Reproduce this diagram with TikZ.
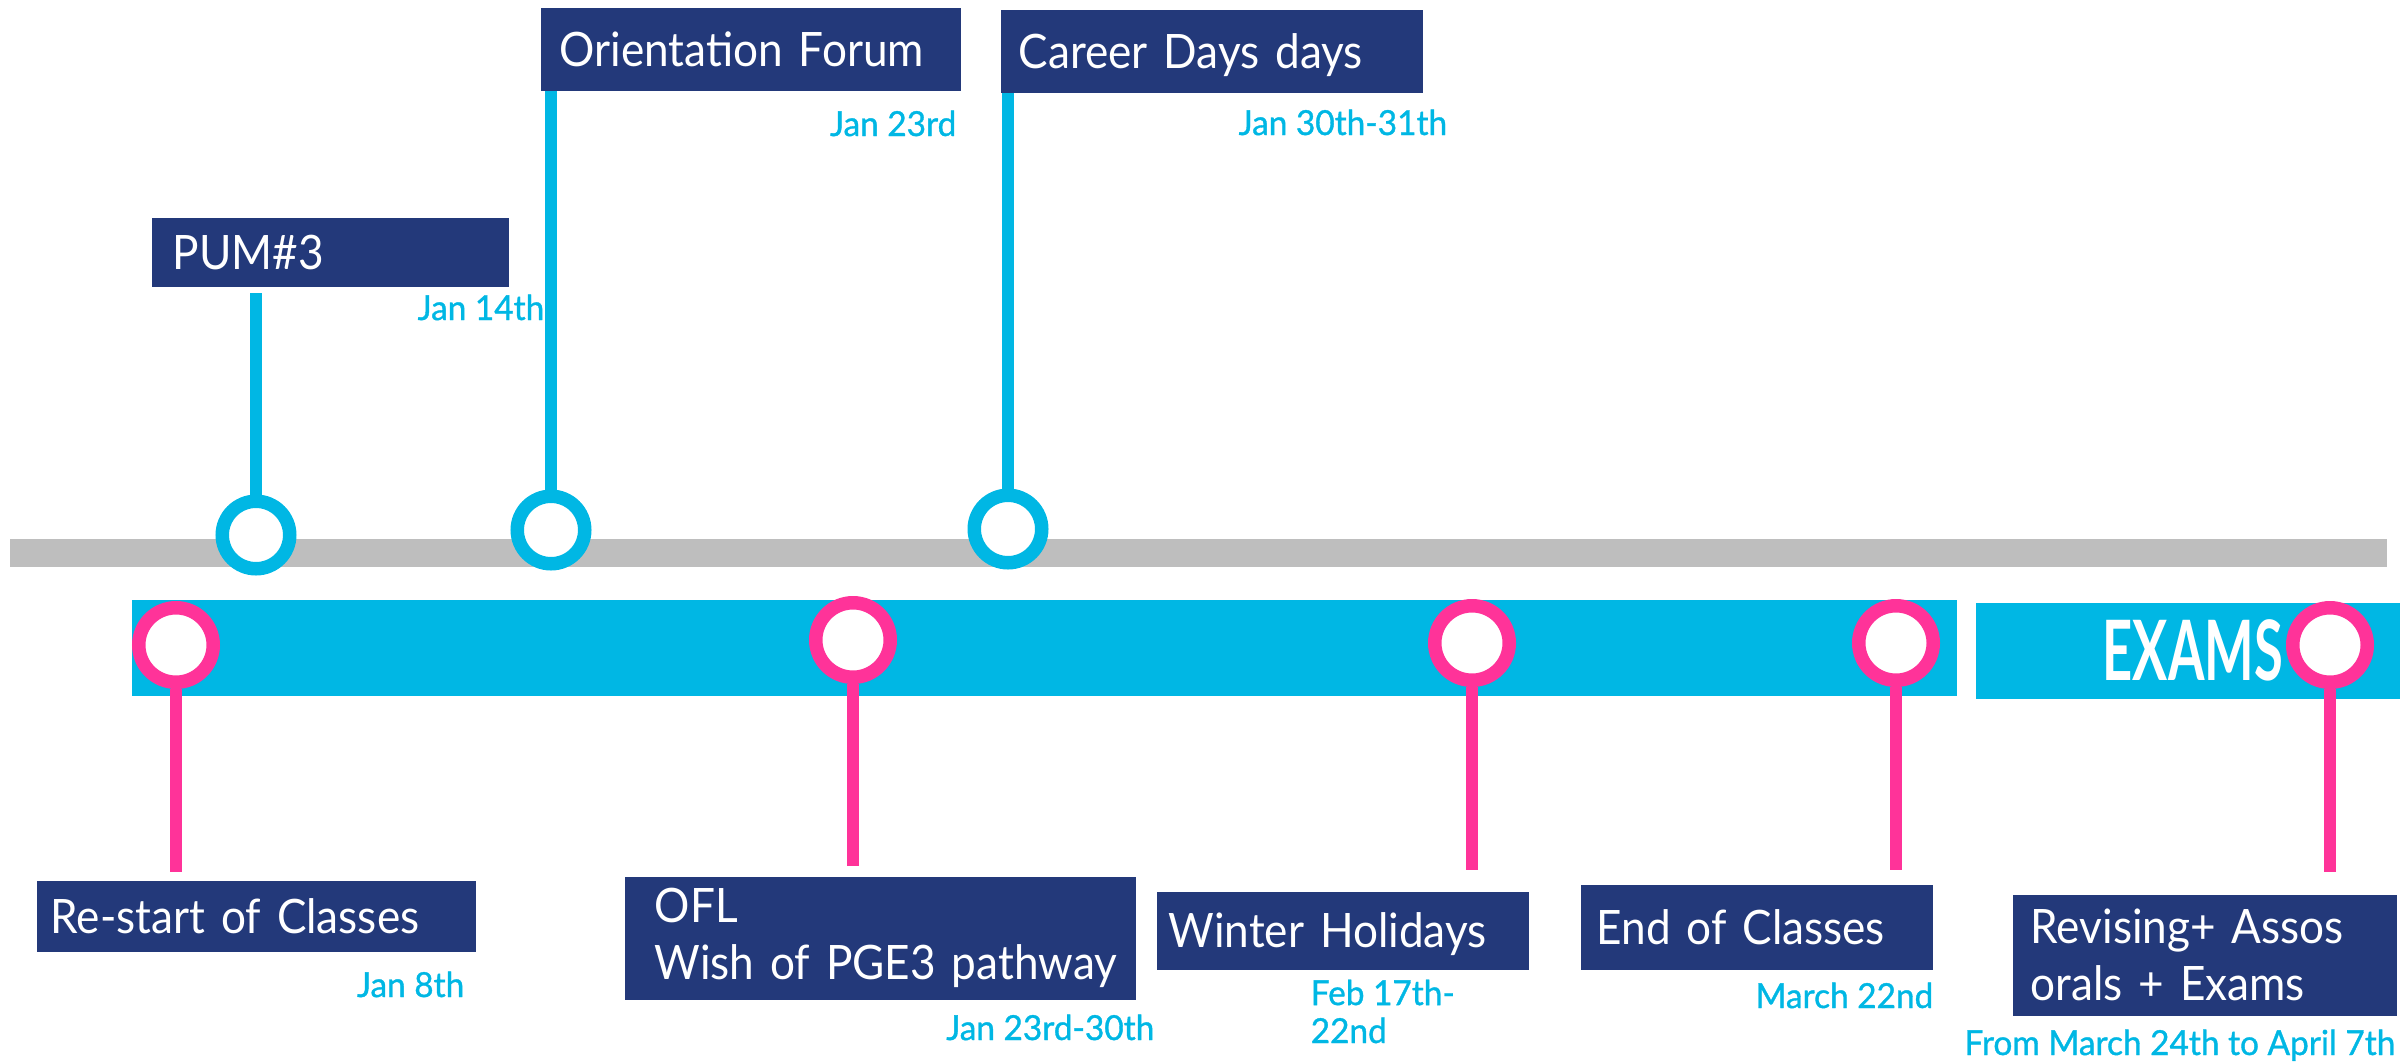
\documentclass[tikz,border=0pt]{standalone}
\usepackage{fontspec}
\setmainfont[FakeStretch=0.93, WordSpace=0.8]{Lato}
\newfontfamily\datefont[FakeStretch=0.97, FakeBold=1]{Lato}
\newfontfamily\examsfont[FakeStretch=0.63]{Lato}
\usepackage{tikz}
\hyphenpenalty=10000
\exhyphenpenalty=10000

\definecolor{navy}{RGB}{35,57,122}
\definecolor{skyblue}{RGB}{0,183,228}
\definecolor{hotpink}{RGB}{255,51,153}
\definecolor{bargray}{RGB}{190,190,190}

\begin{document}
\begin{tikzpicture}[x=0.1mm, y=-0.1mm,
	evbox/.style={fill=navy, text=white, anchor=north west, align=left, inner ysep=0pt,
		font=\fontsize{13.5}{16.2}\selectfont},
	oneline/.style={text height=3.4mm, text depth=0mm},
	datelbl/.style={text=skyblue, inner sep=0pt, font=\datefont\fontsize{9.8}{10.8}\selectfont},
	bluering/.style={circle, draw=skyblue, line width=1.35mm, fill=white, minimum size=6.75mm, inner sep=0pt},
	pinkring/.style={circle, draw=hotpink, line width=1.35mm, fill=white, minimum size=7.45mm, inner sep=0pt},
	bluestem/.style={draw=skyblue, line width=1.25mm},
	pinkstem/.style={draw=hotpink, line width=1.25mm}]
	\useasboundingbox (0,0) rectangle (2402,1061);
	
	% draw bars
	\fill[bargray] (10,539) rectangle (2387,567);
	\fill[skyblue] (132,600) rectangle (1957,696);
	\fill[skyblue] (1976,603) rectangle (2400,699);
	\node[text=white, inner sep=0pt, anchor=base west, font=\examsfont\bfseries\fontsize{23.7}{24}\selectfont] (exams) at (2102,680) {EXAMS};
	
	% draw rings
	\foreach \x/\y/\n in {256/535/t1, 551/530/t2, 1008/529/t3}
	\node[bluering] (\n) at (\x,\y) {};
	\foreach \x/\y/\n in {176/645/b1, 853/640/b2, 1472/643/b3, 1896/643/b4, 2330/645/b5}
	\node[pinkring] (\n) at (\x,\y) {};
	
	% draw upper boxes
	\node[evbox, oneline, text width=31.5mm, inner xsep=2.1mm, minimum height=6.9mm] (pum) at (151,217) {PUM\#3};
	\node[evbox, oneline, text width=38.2mm, inner xsep=1.9mm, minimum height=8.3mm] (orient) at (540,7) {Orientation Forum};
	\node[evbox, oneline, text width=38.6mm, inner xsep=1.8mm, minimum height=8.3mm] (career) at (1000,9) {Career Days days};
	
	% draw lower boxes
	\node[evbox, oneline, text width=41.1mm, inner xsep=1.4mm, minimum height=7.1mm] (restart) at (36,880) {Re-start of Classes};
	\node[evbox, text width=45.1mm, inner xsep=3.0mm, minimum height=12.3mm] (ofl) at (624,876) {\mbox{OFL}\\\mbox{Wish of PGE3 pathway}};
	\node[evbox, oneline, text width=34.8mm, inner xsep=1.2mm, minimum height=7.8mm] (winter) at (1156,891) {Winter Holidays};
	\node[evbox, oneline, text width=32.0mm, inner xsep=1.6mm, minimum height=8.5mm] (endcl) at (1580,884) {End of Classes};
	\node[evbox, text width=34.8mm, inner xsep=1.8mm, minimum height=12.1mm] (revis) at (2012,894) {Revising+ Assos\\orals + Exams};
	
	% draw dates
	\node[datelbl, anchor=base east] (d14) at (545,320) {Jan 14th};
	\node[datelbl, anchor=base east] (d23) at (957,136) {Jan 23rd};
	\node[datelbl, anchor=base west] (d30) at (1238,135) {Jan 30th-31th};
	\node[datelbl, anchor=base east] (d8) at (465,997) {Jan 8th};
	\node[datelbl, anchor=base east] (d2330) at (1155,1040) {Jan 23rd-30th};
	\node[datelbl, anchor=north west, align=left] (dfeb) at (1310,979) {Feb 17th-\\22nd};
	\node[datelbl, anchor=base east] (dmar) at (1934,1008) {March 22nd};
	\node[datelbl, anchor=base east] (dapr) at (2396,1055) {From March 24th to April 7th};
	
	% draw stems
	\coordinate (t1top) at (256,293);
	\draw[bluestem] (t1.north) -- (t1top);
	\draw[bluestem] (t2.north) -- (t2 |- orient.south);
	\draw[bluestem] (t3.north) -- (t3 |- career.south);
	\foreach \n/\y in {b1/872, b2/866, b3/870, b4/870, b5/872}
	\draw[pinkstem] (\n.south) -- (\n |- 0,\y);
\end{tikzpicture}
\end{document}
